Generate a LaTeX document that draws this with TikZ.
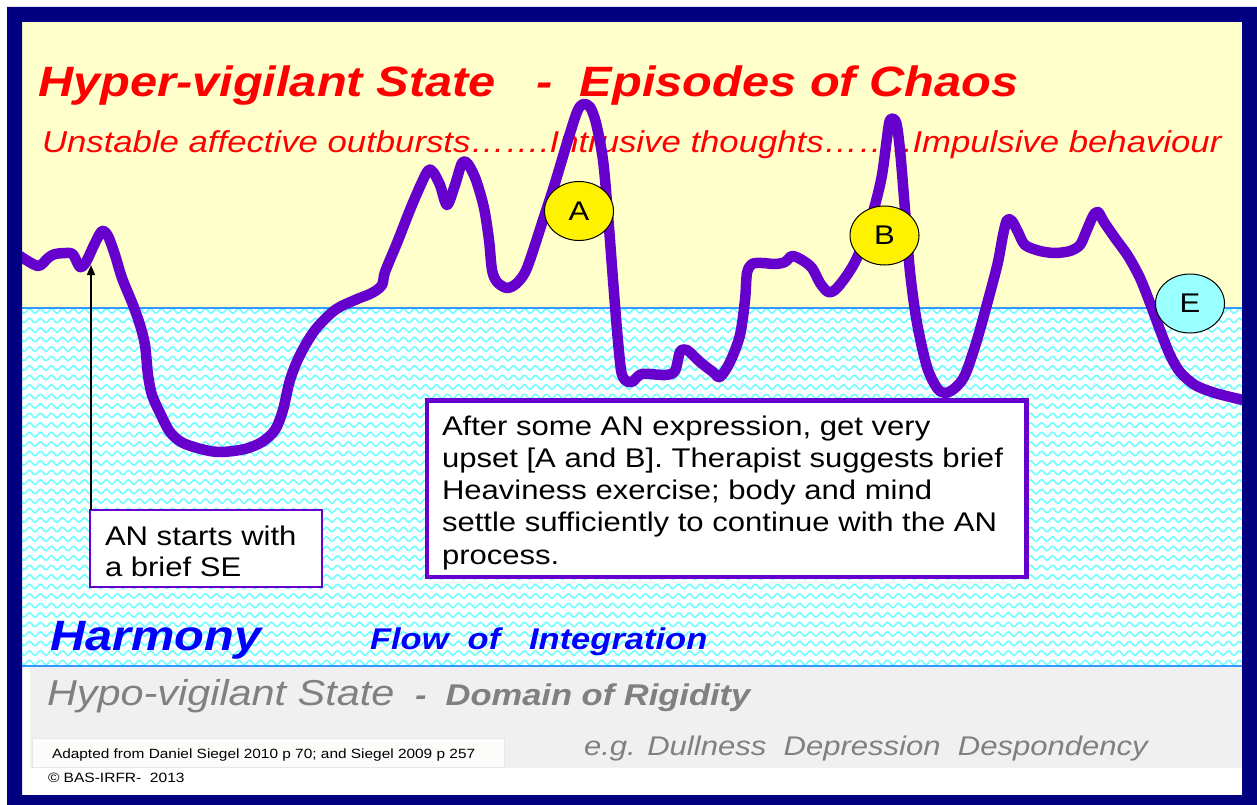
\documentclass[tikz,border=0pt]{standalone}
\usepackage{fontspec}
\setmainfont{Liberation Sans}[FakeStretch=1.15]
\usetikzlibrary{shapes.geometric,arrows.meta,decorations.pathmorphing}

\definecolor{frameblue}{HTML}{000080}
\definecolor{cream}{HTML}{FFFFCC}
\definecolor{edgeblue}{HTML}{3399FF}
\definecolor{wavecyan}{HTML}{70FFFF}
\definecolor{lowgray}{HTML}{F0F0F0}
\definecolor{trace}{HTML}{6600CC}
\definecolor{hot}{HTML}{FF0000}
\definecolor{calm}{HTML}{0000FF}
\definecolor{dull}{HTML}{808080}
\definecolor{pale}{HTML}{99FFFF}
\definecolor{srcedge}{HTML}{E6E6E6}
\definecolor{srcfill}{HTML}{FCFCFA}

\tikzset{
  every node/.style={inner sep=0pt, outer sep=0pt},
  label text/.style={anchor=base west},
  wave/.style={draw=wavecyan, line width=1.6pt, decorate,
    decoration={snake, segment length=11pt, amplitude=2.2pt}},
  stage/.style={ellipse, draw=black, line width=1pt, minimum width=69pt,
    minimum height=59pt, font=\fontsize{27}{32}\selectfont},
  notebox/.style={draw=trace, fill=white, anchor=north west},
  boxtext/.style={anchor=north west, align=left},
}

\begin{document}
\begin{tikzpicture}[x=1pt,y=-1pt]
\useasboundingbox (0,0) rectangle (1257,805);
\fill[white] (0,0) rectangle (1257,805);

% arousal zones
\fill[cream] (22,22) rectangle (1242,308);
\fill[lowgray] (30,666) rectangle (1242,768);
\node[draw=srcedge, fill=srcfill, line width=1pt, minimum width=472pt,
      minimum height=29pt, anchor=north west] (srcbox) at (32,738) {};

% window of tolerance, rippled band
\begin{scope}
  \clip (22,308) rectangle (1242,666);
  \foreach \r in {0,...,38} {
    \draw[wave] (15,{311+9.5*\r}) -- (1250,{311+9.5*\r});
  }
\end{scope}
\draw[edgeblue, line width=1.6pt] (22,308) -- (1242,308);
\draw[edgeblue, line width=1.6pt] (22,666) -- (1242,666);

% headings
\node[label text, text=hot, font=\fontsize{42.4}{48}\selectfont\bfseries\itshape] (title) at (38,97)
  {Hyper-vigilant State\ \ \ -\ \ Episodes of Chaos};
\node[label text, text=hot, font=\fontsize{30.2}{36}\selectfont\itshape] (symptoms) at (42,153)
  {Unstable affective outbursts…….Intrusive thoughts……..Impulsive behaviour};
\node[label text, text=calm, font=\fontsize{42.4}{48}\selectfont\bfseries\itshape] (harmony) at (50,650)
  {Harmony};
\node[label text, text=calm, font=\fontsize{30}{36}\selectfont\bfseries\itshape] (flow) at (370,649)
  {Flow\ \ of\ \ \ Integration};
\node[label text, text=dull, font=\fontsize{36}{40}\selectfont\itshape] (hypo) at (47,705)
  {Hypo-vigilant State};
\node[label text, text=dull, font=\fontsize{30}{36}\selectfont\bfseries\itshape] (rigid) at (415,705)
  {-\ \ Domain of Rigidity};
\node[label text, text=dull, font=\fontsize{27}{32}\selectfont\itshape] (examples) at (584,755)
  {e.g. Dullness\ \ Depression\ \ Despondency};
\node[label text, font=\fontsize{13.4}{16}\selectfont] (source) at (52,758)
  {Adapted from Daniel Siegel 2010 p 70; and Siegel 2009 p 257};
\node[label text, font=\fontsize{13.5}{16}\selectfont] (copy) at (48,782)
  {© BAS-IRFR-\ \ 2013};

% arousal trace over the session
\draw[trace, line width=10.5pt, line cap=round, line join=round]
  plot[smooth, tension=0.5] coordinates {
  (20,256) (38,266) (48,258) (55,254) (70,253) (74,256) (80,267) (86,262)
  (95,243) (102,231) (108,236) (115,255) (122,278) (133,305) (140,325)
  (145,345) (148,375) (152,395) (160,413) (170,432) (183,443) (205,450)
  (222,452) (245,449) (262,442) (275,430) (283,410) (290,380) (300,355)
  (315,330) (335,310) (355,300) (372,293) (382,285) (385,272) (397,243)
  (412,205) (427,172) (433,172) (440,185) (447,205) (455,185) (462,163)
  (468,164) (476,180) (484,208) (489,240) (492,270) (497,282) (507,288)
  (517,283) (527,268) (543,220) (555,183) (567,143) (577,112) (583,104)
  (590,107) (596,123) (603,160) (608,215) (613,280) (617,330) (621,370)
  (625,380) (632,382) (642,374) (665,375) (675,371) (680,352) (687,350)
  (700,362) (713,372) (720,377) (730,362) (740,335) (745,300) (747,273)
  (752,264) (762,263) (775,264) (785,262) (792,256) (802,260) (812,268)
  (820,283) (828,292) (835,290) (845,278) (855,262) (865,238) (875,205)
  (882,175) (887,138) (890,120) (896,122) (900,150) (905,210) (910,272)
  (917,323) (927,367) (937,388) (945,393) (955,388) (965,375) (977,340)
  (990,293) (998,262) (1003,235) (1007,220) (1012,221) (1018,232)
  (1025,245) (1040,251) (1055,253) (1070,251) (1080,245) (1086,232)
  (1093,216) (1098,212) (1104,222) (1115,238) (1128,256) (1140,278)
  (1150,303) (1160,330) (1170,355) (1180,372) (1195,385) (1215,393)
  (1243,400)};

% explanatory boxes
\node[notebox, line width=4.5pt, minimum width=599.5pt, minimum height=176.5pt] (note) at (427,400.5) {};
\node[boxtext, font=\fontsize{27}{32.3}\selectfont] (notetext) at (442,415.5)
  {After some AN expression, get very\\
   upset [A and B]. Therapist suggests brief\\
   Heaviness exercise; body and mind\\
   settle sufficiently to continue with the AN\\
   process.};

\node[notebox, line width=1.5pt, minimum width=232pt, minimum height=77pt] (sebox) at (90,510) {};
\node[boxtext, font=\fontsize{27}{31}\selectfont] (setext) at (105,525.5)
  {AN starts with\\a brief SE};

% episode markers
\node[stage, fill=yellow] (A) at (579,211) {A};
\node[stage, fill=yellow] (B) at (884.5,235.5) {B};
\node[stage, fill=pale] (E) at (1190,303.5) {E};

% pointer to the start of the trace
\coordinate (start) at (91,265);
\draw[line width=1.5pt, -{Triangle[width=8pt,length=10pt]}] (start |- sebox.north) -- (start);

% frame
\fill[frameblue, even odd rule] (7,7) rectangle (1257,805) (22,22) rectangle (1242,795);
\end{tikzpicture}
\end{document}
